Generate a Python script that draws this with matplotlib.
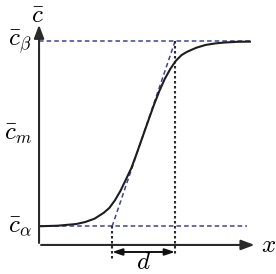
import numpy as np
import matplotlib.pyplot as plt

plt.rcParams['mathtext.fontset'] = 'cm'

# concentration levels
c_alpha = 0.1
c_beta = 1.1
c_m = 0.6

# interface: left / right ends of the tangent construction
x_left = 0.395
x_right = 0.735

# profile
x_prof = [0.0, 0.1, 0.2, 0.25, 0.3, 0.35, 0.38, 0.41, 0.44, 0.47, 0.5, 0.53, 0.56,
          0.59, 0.62, 0.65, 0.68, 0.71, 0.74, 0.77, 0.8, 0.85, 0.9, 0.95, 1.0, 1.07, 1.14]
c_prof = [0.101, 0.104, 0.113, 0.124, 0.142, 0.174, 0.200, 0.241, 0.292, 0.354, 0.418,
          0.500, 0.585, 0.670, 0.754, 0.831, 0.898, 0.952, 0.996, 1.026, 1.044, 1.066,
          1.081, 1.089, 1.094, 1.098, 1.099]

x_end = 1.14
x_axis_end = 1.18
y_axis_end = 1.205

fig = plt.figure(figsize=(2.76, 2.74), dpi=100)
ax = fig.add_axes([0, 0, 1, 1])
ax.set_xlim(-0.211, 1.281)
ax.set_ylim(-0.157, 1.324)
ax.axis('off')

blue = '#4040a0'
dark = '#2a2a2a'

# axes with arrows
ax.annotate('', xy=(x_axis_end, 0), xytext=(-0.004, 0),
            arrowprops=dict(arrowstyle='-|>,head_length=0.8,head_width=0.3', color=dark, lw=1.5))
ax.annotate('', xy=(0, y_axis_end), xytext=(0, -0.004),
            arrowprops=dict(arrowstyle='-|>,head_length=0.8,head_width=0.3', color=dark, lw=1.5))

# dashed guide lines
ax.plot([0, x_end], [c_beta, c_beta], ls=(0, (3, 2)), color=blue, lw=1.1)
ax.plot([0, 1.125], [c_alpha, c_alpha], ls=(0, (3, 2)), color=blue, lw=1.1)
ax.plot([x_left, x_right], [c_alpha, c_beta], ls=(0, (3, 2)), color=blue, lw=1.1)

# dotted verticals
ax.plot([x_left, x_left], [c_alpha, -0.075], ls=(0, (1.2, 1.2)), color=dark, lw=1.5)
ax.plot([x_right, x_right], [c_beta, -0.06], ls=(0, (1.2, 1.2)), color=dark, lw=1.5)

# profile
ax.plot(x_prof, c_prof, color='#1e1e1e', lw=1.5)

# width arrow
ax.annotate('', xy=(x_right, -0.038), xytext=(x_left, -0.038),
            arrowprops=dict(arrowstyle='<|-|>,head_length=0.6,head_width=0.2', color='#111111', lw=1.4,
                            shrinkA=0, shrinkB=0))

fs = 18
ax.text(-0.005, 1.245, r'$\bar{c}$', fontsize=fs, ha='center', va='center')
ax.text(-0.035, c_beta, r'$\bar{c}_\beta$', fontsize=fs, ha='right', va='center')
ax.text(-0.035, c_m, r'$\bar{c}_m$', fontsize=fs, ha='right', va='center')
ax.text(-0.035, c_alpha, r'$\bar{c}_\alpha$', fontsize=fs, ha='right', va='center')
ax.text(1.20, 0.0, r'$x$', fontsize=fs, ha='left', va='center')
ax.text((x_left + x_right) / 2, -0.092, r'$d$', fontsize=fs, ha='center', va='center')

fig.savefig('out.png', dpi=100)
